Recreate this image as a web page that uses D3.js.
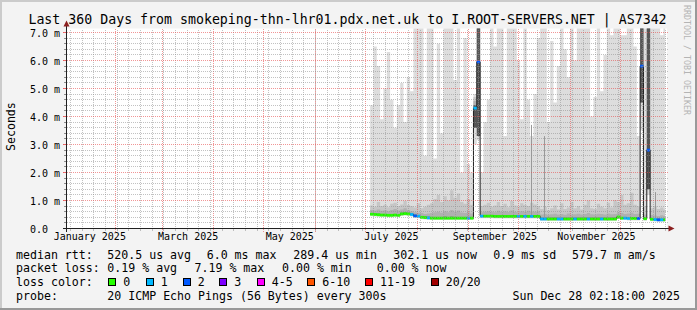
<!DOCTYPE html>
<html><head><meta charset="utf-8">
<script src="https://cdn.jsdelivr.net/npm/d3@7"></script>
<style>
html,body{margin:0;padding:0;background:#f3f3f3;}
svg{display:block;}
text{font-family:"DejaVu Sans Mono",monospace;white-space:pre;}
</style>
</head><body>
<svg id="c" width="697" height="310"></svg>
<script>
// ---------- data ----------
const title = "Last 360 Days from smokeping-thn-lhr01.pdx.net.uk to I.ROOT-SERVERS.NET | AS7342";
const dates = [
 "2025-07-04","2025-07-06","2025-07-08","2025-07-10","2025-07-12","2025-07-14","2025-07-16","2025-07-18","2025-07-20","2025-07-22",
 "2025-07-24","2025-07-26","2025-07-28","2025-07-30","2025-08-01","2025-08-03","2025-08-05","2025-08-07","2025-08-09","2025-08-11",
 "2025-08-13","2025-08-15","2025-08-17","2025-08-19","2025-08-21","2025-08-23","2025-08-25","2025-08-27","2025-08-29","2025-08-31",
 "2025-09-02","2025-09-04","2025-09-06","2025-09-08","2025-09-10","2025-09-12","2025-09-14","2025-09-16","2025-09-18","2025-09-20",
 "2025-09-22","2025-09-24","2025-09-26","2025-09-28","2025-09-30","2025-10-02","2025-10-04","2025-10-06","2025-10-08","2025-10-10",
 "2025-10-12","2025-10-14","2025-10-16","2025-10-18","2025-10-20","2025-10-22","2025-10-24","2025-10-26","2025-10-28","2025-10-30",
 "2025-11-01","2025-11-03","2025-11-05","2025-11-07","2025-11-09","2025-11-11","2025-11-13","2025-11-15","2025-11-17","2025-11-19",
 "2025-11-21","2025-11-23","2025-11-25","2025-11-27","2025-11-29","2025-12-01","2025-12-03","2025-12-05","2025-12-07","2025-12-09",
 "2025-12-11","2025-12-13","2025-12-15","2025-12-17","2025-12-19","2025-12-21","2025-12-23","2025-12-25","2025-12-27"];
const dataEnd = "2025-12-28";
// median rtt (ms)
const medianVals = [
 0.51,0.50,0.49,0.48,0.48,0.47,0.47,0.48,0.47,0.52,
 0.53,0.52,0.50,0.45,0.44,0.40,0.39,0.38,0.37,0.37,
 0.37,0.37,0.37,0.37,0.37,0.37,0.37,0.37,0.37,0.37,
 0.37,4.30,5.95,0.44,0.44,0.44,0.44,0.43,0.43,0.43,
 0.43,0.43,0.43,0.43,0.43,0.43,0.43,0.43,0.43,0.43,
 0.43,0.34,0.34,0.34,0.34,0.34,0.34,0.34,0.34,0.34,
 0.34,0.34,0.34,0.34,0.34,0.34,0.34,0.34,0.34,0.34,
 0.34,0.34,0.34,0.34,0.41,0.37,0.37,0.36,0.36,0.36,
 0.36,5.80,0.35,2.80,0.33,0.32,0.31,0.31,0.31];
// smallest ping (ms)
const minVals = [
 0.44,0.43,0.42,0.41,0.41,0.40,0.40,0.41,0.40,0.45,
 0.46,0.45,0.43,0.38,0.37,0.33,0.32,0.31,0.30,0.30,
 0.30,0.30,0.30,0.30,0.30,0.30,0.30,0.30,0.30,0.30,
 0.30,3.00,3.15,0.37,0.37,0.37,0.37,0.36,0.36,0.36,
 0.36,0.36,0.36,0.36,0.36,0.36,0.36,0.36,0.36,0.36,
 0.36,0.27,0.27,0.27,0.27,0.27,0.27,0.27,0.27,0.27,
 0.27,0.27,0.27,0.27,0.27,0.27,0.27,0.27,0.27,0.27,
 0.27,0.27,0.27,0.27,0.34,0.30,0.30,0.29,0.29,0.29,
 0.29,3.50,0.28,1.20,0.26,0.25,0.24,0.24,0.24];
// low inner ping (ms)
const loVals = [
 0.49,0.48,0.47,0.46,0.46,0.45,0.45,0.46,0.45,0.50,
 0.51,0.50,0.48,0.43,0.42,0.38,0.37,0.36,0.35,0.35,
 0.35,0.35,0.35,0.35,0.35,0.35,0.35,0.35,0.35,0.35,
 0.35,3.60,3.30,0.42,0.42,0.42,0.42,0.41,0.41,0.41,
 0.41,0.41,0.41,0.41,0.41,0.41,0.41,0.41,0.41,0.41,
 0.41,0.32,0.32,0.32,0.32,0.32,0.32,0.32,0.32,0.32,
 0.32,0.32,0.32,0.32,0.32,0.32,0.32,0.32,0.32,0.32,
 0.32,0.32,0.32,0.32,0.39,0.35,0.35,0.34,0.34,0.34,
 0.34,4.50,0.33,1.40,0.31,0.30,0.29,0.29,0.29];
// upper core ping (ms)
const coreVals = [
 0.55,0.54,0.53,0.52,0.52,0.51,0.51,0.52,0.51,0.56,
 0.57,0.56,0.54,0.49,0.48,0.44,0.43,0.42,0.41,0.41,
 0.41,0.41,0.42,0.41,0.42,0.41,0.41,0.41,0.41,0.41,
 0.41,4.40,7.50,0.48,0.48,0.48,0.48,0.47,0.47,0.47,
 0.47,0.47,0.47,0.47,0.47,0.47,0.47,0.47,0.47,0.47,
 0.47,0.38,0.38,0.38,0.38,0.38,0.38,0.38,0.38,0.38,
 0.38,0.38,0.38,0.38,0.38,0.38,0.38,0.38,0.38,0.38,
 0.38,0.38,0.38,0.38,0.45,0.41,0.41,0.40,0.40,0.40,
 0.40,7.50,0.39,7.50,0.37,0.36,0.35,0.35,0.35];
// 18th ping (ms)
const hiVals = [
 0.66,0.64,0.68,0.63,0.65,0.62,0.66,0.70,0.64,0.68,
 0.72,0.66,0.62,0.58,0.56,0.55,0.52,0.54,0.55,0.58,
 0.60,0.56,0.62,0.58,0.66,0.60,0.64,0.57,0.55,0.58,
 0.54,4.55,7.50,0.58,0.60,0.62,0.60,0.58,0.63,0.60,
 0.62,0.59,0.64,0.60,0.58,0.62,0.60,0.63,0.61,0.60,
 0.62,0.50,0.52,0.49,0.51,0.53,0.50,0.52,0.49,0.54,
 0.50,0.51,0.53,0.50,0.52,0.55,0.51,0.50,0.53,0.52,
 0.50,0.54,0.51,0.52,0.58,0.55,0.52,0.54,0.56,0.52,
 0.53,7.50,0.50,7.50,0.48,0.46,0.45,0.47,0.45];
// 19th ping (ms)
const upVals = [
 0.82,0.78,0.95,0.80,0.85,0.76,0.88,0.92,0.80,0.86,
 0.98,0.84,0.80,0.75,0.90,0.72,0.78,0.85,0.90,1.05,
 1.20,0.95,1.15,1.00,1.37,1.10,1.25,0.95,0.88,1.05,
 0.85,4.70,7.50,0.80,0.85,0.92,0.78,0.82,0.95,0.80,
 0.88,0.76,0.98,0.82,0.78,0.90,0.84,0.80,0.92,0.86,
 0.80,0.70,0.78,0.65,0.72,0.82,0.68,0.90,0.70,0.75,
 0.95,0.72,0.80,0.68,0.85,1.00,0.72,0.70,0.88,0.78,
 0.72,0.92,0.75,1.02,0.95,1.20,0.85,0.90,1.28,0.85,
 0.80,7.50,0.80,7.50,0.72,0.80,0.70,0.75,0.68];
// largest ping (ms)
const maxVals = [
 4.4,6.5,5.8,3.9,5.0,6.3,4.6,3.6,4.4,5.2,
 3.8,5.4,4.9,7.5,7.5,7.5,2.6,7.5,7.5,2.5,
 6.6,3.4,7.5,7.5,7.5,5.3,7.5,2.0,6.8,2.3,
 2.0,4.8,7.5,2.0,3.8,4.6,7.5,6.5,7.5,7.5,
 3.3,7.5,7.5,7.5,6.0,3.9,7.5,4.6,3.3,4.8,
 6.8,7.3,7.5,3.8,6.7,4.5,5.8,7.5,6.4,5.4,
 7.5,6.0,7.5,7.5,7.5,7.5,4.0,4.7,7.5,4.9,
 6.2,7.5,6.9,7.5,7.5,6.9,6.9,7.5,7.5,6.5,
 3.3,7.5,7.5,7.5,7.5,7.5,7.5,6.9,7.5];
// lost pings out of 20
const lossVals = [
 0,0,0,0,0,0,0,0,0,0,
 0,0,1,2,1,0,0,1,0,0,
 0,0,0,0,0,0,0,0,0,1,
 0,1,2,1,0,0,0,0,0,0,
 0,0,0,0,1,0,1,0,1,0,
 0,1,1,0,0,0,1,1,0,0,
 0,1,0,0,0,1,0,0,0,1,
 0,0,0,0,0,0,1,1,0,0,
 2,2,0,2,0,1,2,1,0];
// isolated single-ping outliers
const spikeDates = ["2025-10-08T08:00:00Z","2025-10-16T02:00:00Z","2025-12-21T22:00:00Z"];
const spikeVals = [3.7, 3.3, 1.3];
const spikeBase = [0.45, 0.36, 0.33];

const yTicks = [0,1,2,3,4,5,6,7];
const yTickLabels = ["0.0","1.0 m","2.0 m","3.0 m","4.0 m","5.0 m","6.0 m","7.0 m"];
const monthLabelDates = ["2025-01-01","2025-03-01","2025-05-01","2025-07-01","2025-09-01","2025-11-01"];
const monthLabels = ["January 2025","March 2025","May 2025","July 2025","September 2025","November 2025"];
const lossLabels = ["0","1","2","3","4-5","6-10","11-19","20/20"];
const lossColors = ["#26ff00","#00b8ff","#0059ff","#7e00ff","#ff00ff","#ff5500","#ff0000","#a10000"];
const lossUpper = [0,1,2,3,5,10,19,20];
const statLine1 = [["median rtt:",16],["520.5 us avg",107.3],["6.0 ms max",206.7],["289.4 us min",293.3],["302.1 us now",393.3],["0.9 ms sd",493.3],["579.7 m am/s",572]];
const statLine2 = [["packet loss:",16],["0.19 % avg",107.3],["7.19 % max",194.5],["0.00 % min",282],["0.00 % now",376.7]];
const probeText = "20 ICMP Echo Pings (56 Bytes) every 300s";
const stampText = "Sun Dec 28 02:18:00 2025";
const watermark = "RRDTOOL / TOBI OETIKER";

// ---------- layout ----------
const W = 697, H = 310;
const svg = d3.select("#c");
const X = d3.scaleUtc().domain([new Date("2025-01-03T03:00:00Z"), new Date("2025-12-29T03:00:00Z")]).range([67, 667]);
const Y = d3.scaleLinear().domain([0, 200/28]).range([228.5, 28.5]);
const PX0 = 67, PX1 = 667, PY0 = 228.5, PY1 = 28.5;

// background + 3D border
svg.append("rect").attr("width", W).attr("height", H).attr("fill", "#f3f3f3");
svg.append("rect").attr("x",0).attr("y",0).attr("width",W).attr("height",2).attr("fill","#cbcbcb");
svg.append("rect").attr("x",0).attr("y",0).attr("width",2).attr("height",H).attr("fill","#cbcbcb");
svg.append("rect").attr("x",W-2).attr("y",0).attr("width",2).attr("height",H).attr("fill","#999999");
svg.append("rect").attr("x",0).attr("y",H-2).attr("width",W).attr("height",2).attr("fill","#999999");
// canvas
svg.append("rect").attr("x", PX0).attr("y", PY1).attr("width", PX1-PX0).attr("height", PY0-PY1).attr("fill", "#ffffff");

svg.append("defs").append("clipPath").attr("id","plotclip")
  .append("rect").attr("x", PX0).attr("y", PY1).attr("width", PX1-PX0).attr("height", PY0-PY1);

// rows
const rows = dates.map((d, i) => ({
  t: new Date(d + "T00:00:00Z"), med: medianVals[i], min: minVals[i], lo: loVals[i],
  core: coreVals[i], hi: hiVals[i], up: upVals[i], max: maxVals[i], loss: lossVals[i]
}));
const rowsExt = rows.concat([Object.assign({}, rows[rows.length-1], {t: new Date(dataEnd + "T00:00:00Z")})]);

const data = svg.append("g").attr("clip-path", "url(#plotclip)");
function layer(lowKey, highKey, color) {
  const a = d3.area().curve(d3.curveStepAfter)
    .x(d => X(d.t)).y0(d => Y(d[lowKey])).y1(d => Y(d[highKey]));
  data.append("path").attr("d", a(rowsExt)).attr("fill", color);
}
layer("min", "max", "#dddddd");
layer("med", "up", "#c6c6c6");
layer("lo", "hi", "#b0b0b0");
layer("lo", "core", "#555555");

// outlier lines
spikeDates.forEach((d, i) => {
  const x = Math.round(X(new Date(d))) + 0.5;
  data.append("line").attr("x1", x).attr("x2", x)
    .attr("y1", Y(spikeBase[i])).attr("y2", Y(spikeVals[i]))
    .attr("stroke", "#999999").attr("stroke-width", 1);
});

// grid
const grid = svg.append("g").attr("shape-rendering", "crispEdges");
const minorCol = "rgba(143,143,143,0.55)", majorCol = "rgba(232,80,80,0.6)";
const weeks = d3.utcSunday.range(X.domain()[0], X.domain()[1]);
const months = d3.utcMonth.range(X.domain()[0], X.domain()[1]);
weeks.forEach(w => {
  const x = Math.round(X(w)) + 0.5;
  grid.append("line").attr("x1", x).attr("x2", x).attr("y1", PY0).attr("y2", PY1)
    .attr("stroke", minorCol).attr("stroke-dasharray", "1,1");
  grid.append("line").attr("x1", x).attr("x2", x).attr("y1", PY0).attr("y2", PY0+2).attr("stroke", minorCol);
});
months.forEach(m => {
  const x = Math.round(X(m)) + 0.5;
  grid.append("line").attr("x1", x).attr("x2", x).attr("y1", PY0+3).attr("y2", PY1)
    .attr("stroke", majorCol).attr("stroke-dasharray", "1,1");
});
for (let v = 0.2; v < 7.1; v += 0.2) {
  const vv = Math.round(v*10)/10;
  const y = Math.round(Y(vv) - 0.5) + 0.5;
  const major = Math.abs(vv - Math.round(vv)) < 1e-6;
  grid.append("line").attr("x1", major ? PX0-4 : PX0-2).attr("x2", PX1+2).attr("y1", y).attr("y2", y)
    .attr("stroke", major ? majorCol : minorCol).attr("stroke-dasharray", "1,1");
  grid.append("line").attr("x1", major ? PX0-4 : PX0-3).attr("x2", PX0).attr("y1", y).attr("y2", y)
    .attr("stroke", major ? "rgba(232,80,80,0.8)" : "rgba(120,120,120,0.8)");
}

// median line + loss-colored bars
const medLine = d3.line().curve(d3.curveStepAfter).x(d => X(d.t)).y(d => Y(d.med));
data.append("path").attr("d", medLine(rowsExt)).attr("fill", "none").attr("stroke", "#202020").attr("stroke-width", 1);
function lossIndex(l) { for (let i = 0; i < lossUpper.length; i++) if (l <= lossUpper[i]) return i; return lossUpper.length-1; }
data.selectAll("rect.med").data(rows).enter().append("rect")
  .attr("x", d => X(d.t))
  .attr("width", (d, i) => X(rowsExt[i+1].t) - X(d.t))
  .attr("y", d => Y(d.med) - 1.4).attr("height", 2.8)
  .attr("fill", d => lossColors[lossIndex(d.loss)]);

// axes lines
const ax = svg.append("g").attr("shape-rendering", "crispEdges");
ax.append("line").attr("x1", 66.5).attr("x2", 66.5).attr("y1", PY0+3).attr("y2", 24).attr("stroke", "#202020");
ax.append("line").attr("x1", 63).attr("x2", 670).attr("y1", PY0).attr("y2", PY0).attr("stroke", "#202020");
svg.append("path").attr("d", "M63.5,26.5 L66.5,20.5 L69.5,26.5 Z").attr("fill", "#8b1f1f");
svg.append("path").attr("d", "M668.5,225.5 L674.5,228.5 L668.5,231.5 Z").attr("fill", "#8b1f1f");

// y tick labels via d3 axis
const yAx = svg.append("g").attr("transform", "translate(60,0)")
  .call(d3.axisLeft(Y).tickValues(yTicks).tickSize(0).tickPadding(0).tickFormat((d, i) => yTickLabels[i]));
yAx.select(".domain").remove();
yAx.attr("font-family", null).attr("font-size", null);
yAx.selectAll("text").attr("font-size", "10px").attr("fill", "#000")
  .attr("dy", "0.36em")
  .attr("dx", (d, i) => yTickLabels[i].indexOf(" ") < 0 ? -12.04 : 0);

// x labels via d3 axis
const labelCenters = monthLabelDates.map(d => d3.utcHour.offset(new Date(d + "T00:00:00Z"), 15*24 + 12));
const xAx = svg.append("g").attr("transform", "translate(0," + 240 + ")")
  .call(d3.axisBottom(X).tickValues(labelCenters).tickSize(0).tickPadding(0).tickFormat((d, i) => monthLabels[i]));
xAx.select(".domain").remove();
xAx.attr("font-family", null).attr("font-size", null);
xAx.selectAll("text").attr("font-size", "10px").attr("fill", "#000").attr("dy", 0);

// title
svg.append("text").attr("x", 347.5).attr("y", 24).attr("text-anchor", "middle")
  .attr("font-size", "13.25px").attr("fill", "#000").text(title);
// y title
svg.append("text").attr("transform", "translate(14.5,126.6) rotate(-90)").attr("text-anchor", "middle")
  .attr("font-size", "11.6px").attr("fill", "#000").text("Seconds");
// watermark
svg.append("text").attr("transform", "translate(684,5) rotate(90)").attr("text-anchor", "start")
  .attr("font-size", "8.3px").attr("fill", "#b4b4b4").text(watermark);

// legend
const LF = "11.6px";
const leg = svg.append("g").attr("font-size", LF).attr("fill", "#000");
statLine1.forEach(([t, x]) => leg.append("text").attr("x", x).attr("y", 258.5).text(t));
statLine2.forEach(([t, x]) => leg.append("text").attr("x", x).attr("y", 272.4).text(t));
leg.append("text").attr("x", 16).attr("y", 286.2).text("loss color:");
const swX = [108.3, 145.7, 182.7, 219.3, 256.7, 307.3, 365, 430.7];
lossLabels.forEach((l, i) => {
  leg.append("rect").attr("x", Math.round(swX[i]) + 0.5).attr("y", 278.5).attr("width", 7).attr("height", 7)
    .attr("fill", lossColors[i]).attr("stroke", "#000").attr("stroke-width", 1);
  leg.append("text").attr("x", swX[i] + 15).attr("y", 286.2).text(l);
});
leg.append("text").attr("x", 16).attr("y", 300).text("probe:");
leg.append("text").attr("x", 107.3).attr("y", 300).text(probeText);
leg.append("text").attr("x", 680).attr("y", 300).attr("text-anchor", "end").text(stampText);
</script>
</body></html>
